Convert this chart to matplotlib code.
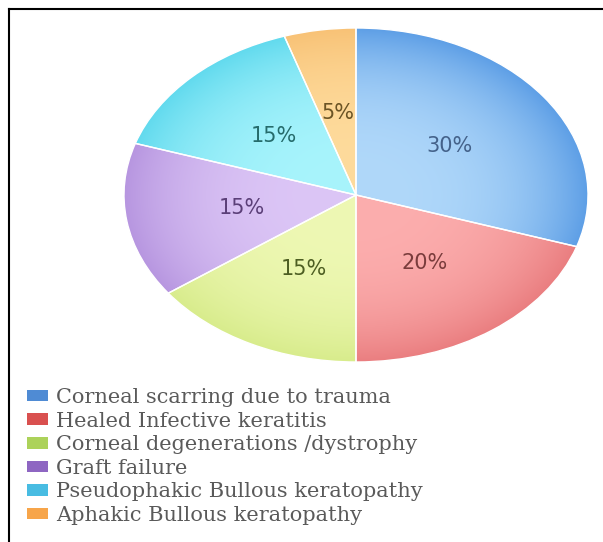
import numpy as np
import matplotlib
matplotlib.use("Agg")
import matplotlib.pyplot as plt
from matplotlib.patches import Patch
from matplotlib.lines import Line2D
from matplotlib.colors import to_rgb

causes = [
    "Corneal scarring due to trauma",
    "Healed Infective keratitis",
    "Corneal degenerations /dystrophy",
    "Graft failure",
    "Pseudophakic Bullous keratopathy",
    "Aphakic Bullous keratopathy",
]
shares = [30, 20, 15, 15, 15, 5]

# slice shading: inner (light) and rim (dark) tones
light = ["#b0d8fa", "#fcaeae", "#eef8b4", "#dcc6f6", "#a8f4fc", "#fedb9c"]
dark = ["#5e9fe6", "#ea7e80", "#d8ec8c", "#b796e0", "#62daee", "#f8c276"]
key_colors = ["#4f8bd4", "#d9504f", "#acd25a", "#8e66c2", "#48bce2", "#f7a54a"]
pct_colors = ["#44628a", "#7a3c3c", "#4d5e22", "#5b3f78", "#256b6b", "#6b5425"]

W, H = 603, 542
fig = plt.figure(figsize=(W / 100, H / 100), dpi=100)
fig.patch.set_facecolor("white")

# pie sits in a wide box, so it renders as an ellipse
cx, cy, rx, ry = 356, 195, 232, 167
ax = fig.add_axes([(cx - rx) / W, 1 - (cy + ry) / H, 2 * rx / W, 2 * ry / H])

wedges, _, autotexts = ax.pie(
    shares, startangle=90, counterclock=False, colors=light,
    autopct="%d%%", pctdistance=0.5,
    wedgeprops=dict(edgecolor="white", linewidth=1),
    textprops=dict(fontsize=15, family="DejaVu Sans"),
)

n = 400
g = np.linspace(-1, 1, n)
X, Y = np.meshgrid(g, g)
t = np.clip(np.hypot(X, Y), 0, 1) ** 3
for w, lo, hi in zip(wedges, light, dark):
    lo, hi = np.array(to_rgb(lo)), np.array(to_rgb(hi))
    img = (1 - t)[..., None] * lo + t[..., None] * hi
    im = ax.imshow(img, extent=(-1, 1, -1, 1), origin="lower",
                   aspect="auto", zorder=1, interpolation="bilinear")
    im.set_clip_path(w)
    w.set_facecolor("none")
    w.set_zorder(2)

for txt, c in zip(autotexts, pct_colors):
    txt.set_color(c)
    txt.set_zorder(4)

ax.set_xlim(-1.0, 1.0)
ax.set_ylim(-1.0, 1.0)
ax.set_aspect("auto")
ax.axis("off")

handles = [Patch(facecolor=c, edgecolor="none") for c in key_colors]
fig.legend(handles, causes, loc="upper left",
           bbox_to_anchor=(27 / W, 1 - 388 / H), frameon=False,
           prop=dict(family="DejaVu Serif", size=15),
           labelcolor="#5a5a5a", handlelength=1.0, handleheight=0.48,
           handletextpad=0.4, labelspacing=0.22, borderpad=0,
           borderaxespad=0)

# open frame: top and left edges only
fig.add_artist(Line2D([9 / W, 1], [1 - 9 / H, 1 - 9 / H], color="black", lw=1.5))
fig.add_artist(Line2D([9 / W, 9 / W], [0, 1 - 9 / H], color="black", lw=1.5))

fig.savefig("out.png", dpi=100, facecolor="white")
